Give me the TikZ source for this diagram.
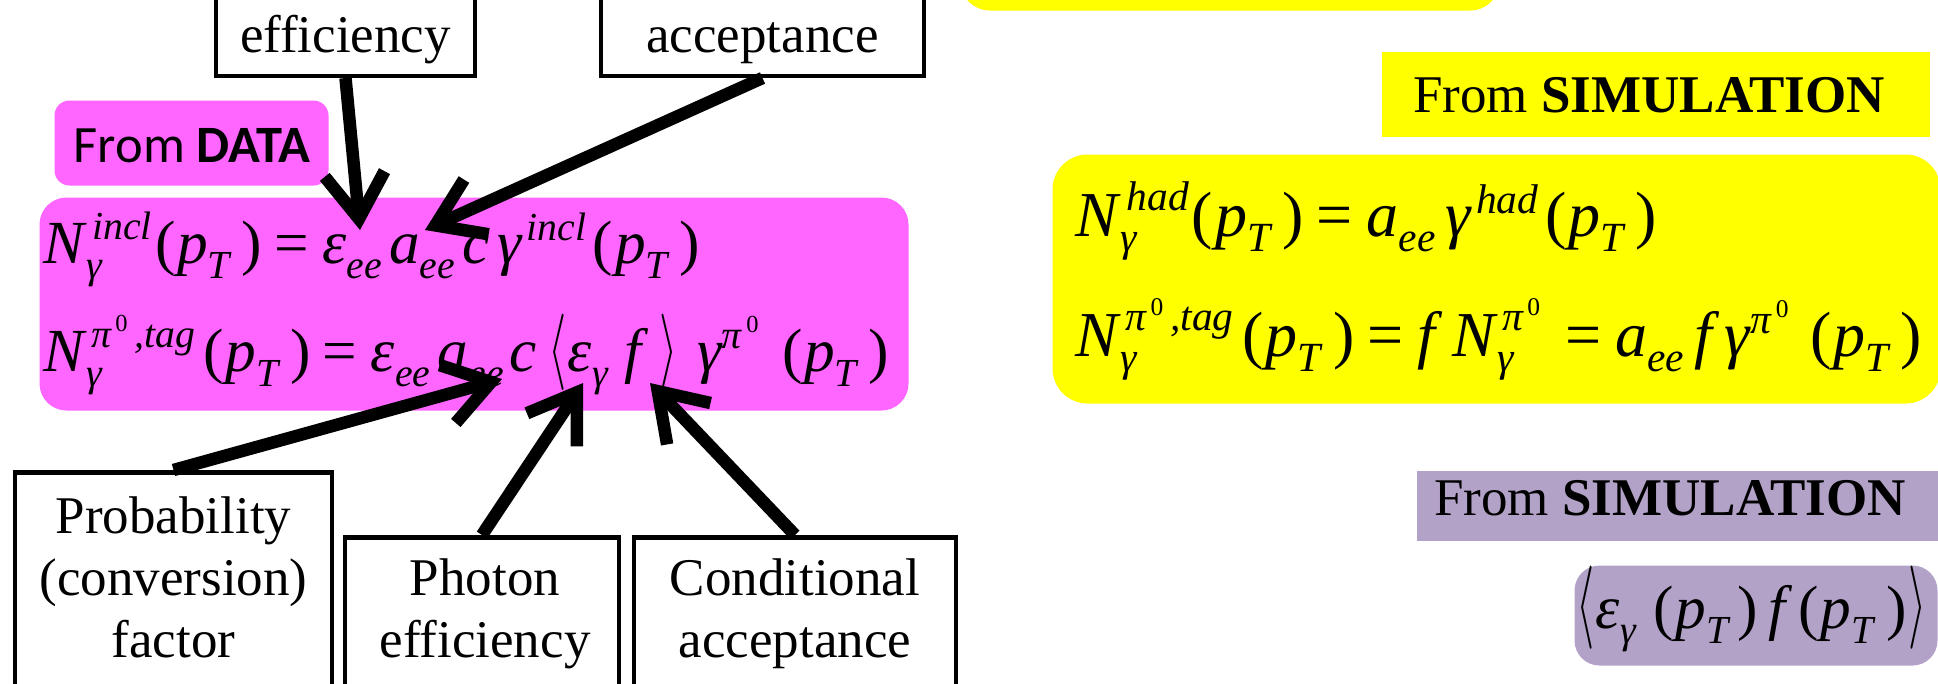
\documentclass[tikz,border=0pt]{standalone}
\usepackage{fontspec}
\usepackage{amsmath}
\usepackage{graphicx}
\setmainfont{Liberation Serif}
\newfontfamily\carlito{Carlito}
\usetikzlibrary{arrows.meta}
\DeclareMathSizes{24.5}{24.5}{15.9}{9.8}
\DeclareMathSizes{25.6}{25.6}{16.6}{10.2}
\definecolor{pinkc}{HTML}{FF66FF}
\definecolor{yellowc}{HTML}{FFFF00}
\definecolor{purplec}{HTML}{B3A2C7}
\newcommand\myi[1]{\textit{#1}}
\newcommand\myeq{\kern0.2em\textup{=}\kern0.22em}
\newcommand\ee{_{\myi{ee}}^{}}
\newcommand\pT[1][0.17em]{\textup{(}\kern0.03em\myi{p}_{\myi{T}}^{}\kern#1\textup{)}}
\newcommand\langl[1][1.23]{\scalebox{0.75}[#1]{$\langle$}}
\newcommand\rangl[1][1.23]{\scalebox{0.75}[#1]{$\rangle$}}
\newcommand\pizero[1][0.07em]{\myi{π}^{\kern#1\textup{0}}}
\begin{document}
\begin{tikzpicture}[x=0.4pt,y=-0.4pt,
  lbox/.style={draw, line width=1.8pt, fill=white, inner sep=0pt},
  fbox/.style={inner sep=0pt},
  lab/.style={font=\fontsize{21.2}{25}\selectfont, inner sep=0pt, anchor=base},
  mathp/.style={font=\fontsize{24.5}{29}\selectfont, inner sep=0pt, anchor=base west},
  mathy/.style={font=\fontsize{25.6}{30}\selectfont, inner sep=0pt, anchor=base west},
  arr/.style={line width=5pt, -{Straight Barb[length=18pt,width=24pt]}}]
\useasboundingbox (0,0) rectangle (1938,683);
% filled panels
\node[fbox, fill=yellowc, rounded corners=12pt, minimum width=216pt, minimum height=44.4pt, anchor=south] (topyel) at (1230,11) {};
\node[fbox, fill=pinkc, rounded corners=6pt, minimum width=109.6pt, minimum height=34pt, anchor=north west] (datalab) at (54,100) {};
\node[fbox, fill=pinkc, rounded corners=10.8pt, minimum width=347.6pt, minimum height=85.2pt, anchor=north west] (pinkbox) at (39,197) {};
\node[fbox, fill=yellowc, minimum width=219.2pt, minimum height=34pt, anchor=north west] (simlab) at (1381,51) {};
\node[fbox, fill=yellowc, rounded corners=14pt, minimum width=355.2pt, minimum height=99.6pt, anchor=north west] (yelbox) at (1052,154) {};
\node[fbox, fill=purplec, minimum width=213.6pt, minimum height=28pt, anchor=north west] (simlabp) at (1416,470) {};
\node[fbox, fill=purplec, rounded corners=10pt, minimum width=145.2pt, minimum height=40pt, anchor=north west] (purbox) at (1574,565) {};
% labels
\node[lab, font=\carlito\fontsize{21}{25}\selectfont] (datatxt) at (192,162) {From \textbf{DATA}};
\node[lab] (simtxt) at (1649,112) {From \textbf{SIMULATION}};
\node[lab] (simtxtp) at (1670,515) {From \textbf{SIMULATION}};
% equations
\node[mathp] (eqa) at (43,263) {$\myi{N}_{\kern0.03em\myi{γ}}^{\kern0.13em\myi{incl}}\kern0.03em\pT\myeq\myi{ε}\ee\kern0.1em\myi{a}\ee\kern0.1em\myi{c}\kern0.13em\myi{γ}^{\kern0.08em\myi{incl}}\kern0.09em\pT$};
\node[mathp] (eqb) at (43,371) {$\myi{N}_{\kern0.03em\myi{γ}}^{\kern0.11em\pizero\kern0.09em\myi{,tag}}\kern0.12em\pT\myeq\myi{ε}\ee\kern0.1em\myi{a}\ee\kern0.08em\myi{c}\kern0.18em\langl\kern0.03em\myi{ε}_{\myi{γ}}^{}\kern0.25em\myi{f}\kern0.3em\rangl\kern0.32em\myi{γ}^{\pizero[0.08em]}\kern0.34em\pT$};
\node[mathy] (eqc) at (1075,236) {$\myi{N}_{\kern0.03em\myi{γ}}^{\kern0.13em\myi{had}}\kern0.03em\pT\myeq\myi{a}\ee\kern0.14em\myi{γ}^{\kern0.08em\myi{had}}\kern0.09em\pT$};
\node[mathy] (eqd) at (1075,356) {$\myi{N}_{\kern0.03em\myi{γ}}^{\kern0.11em\pizero\kern0.09em\myi{,tag}}\kern0.12em\pT\myeq\myi{f}\kern0.27em\myi{N}_{\kern0.03em\myi{γ}}^{\kern0.11em\pizero}\kern0.15em\myeq\myi{a}\ee\kern0.14em\myi{f}\kern0.2em\myi{γ}^{\pizero[0.08em]}\kern0.3em\pT$};
\node[mathp] (eqe) at (1576,628) {$\langl[1.34]\kern0.02em\myi{ε}_{\myi{γ}}^{}\kern0.27em\pT[0.12em]\kern0.18em\myi{f}\kern0.21em\pT[0.19em]\kern0.03em\rangl[1.34]$};
% outlined boxes
\node[lbox, minimum width=103.6pt, minimum height=63.2pt, anchor=south] (effbox) at (345.5,78) {};
\node[lbox, minimum width=129.2pt, minimum height=63.2pt, anchor=south] (accbox) at (762.5,78) {};
\node[lbox, minimum width=126.8pt, minimum height=100pt, anchor=north] (probbox) at (173.5,470) {};
\node[lbox, minimum width=109.6pt, minimum height=74pt, anchor=north] (photbox) at (482,535) {};
\node[lbox, minimum width=128.8pt, minimum height=74pt, anchor=north] (condbox) at (795,535) {};
\node[lab] (efft) at (345.5,52) {efficiency};
\node[lab] (acct) at (762.5,52) {acceptance};
\node[lab] (proba) at (173.5,533) {Probability};
\node[lab] (probb) at (173.5,595) {(conversion)};
\node[lab] (probc) at (173.5,657) {factor};
\node[lab] (phota) at (485,595) {Photon};
\node[lab] (photb) at (485,657) {efficiency};
\node[lab] (conda) at (795,595) {Conditional};
\node[lab] (condb) at (795,657) {acceptance};
% arrow tips
\coordinate (t1) at (360,230);
\coordinate (t2) at (425,230);
\coordinate (t3) at (502,379);
\coordinate (t4) at (583,383);
\coordinate (t5) at (650,383);
\draw[arr] (effbox.south) -- (t1);
\draw[arr] (accbox.south) -- (t2);
\draw[arr] (probbox.north) -- (t3);
\draw[arr] (photbox.north) -- (t4);
\draw[arr] (condbox.north) -- (t5);
\end{tikzpicture}
\end{document}
